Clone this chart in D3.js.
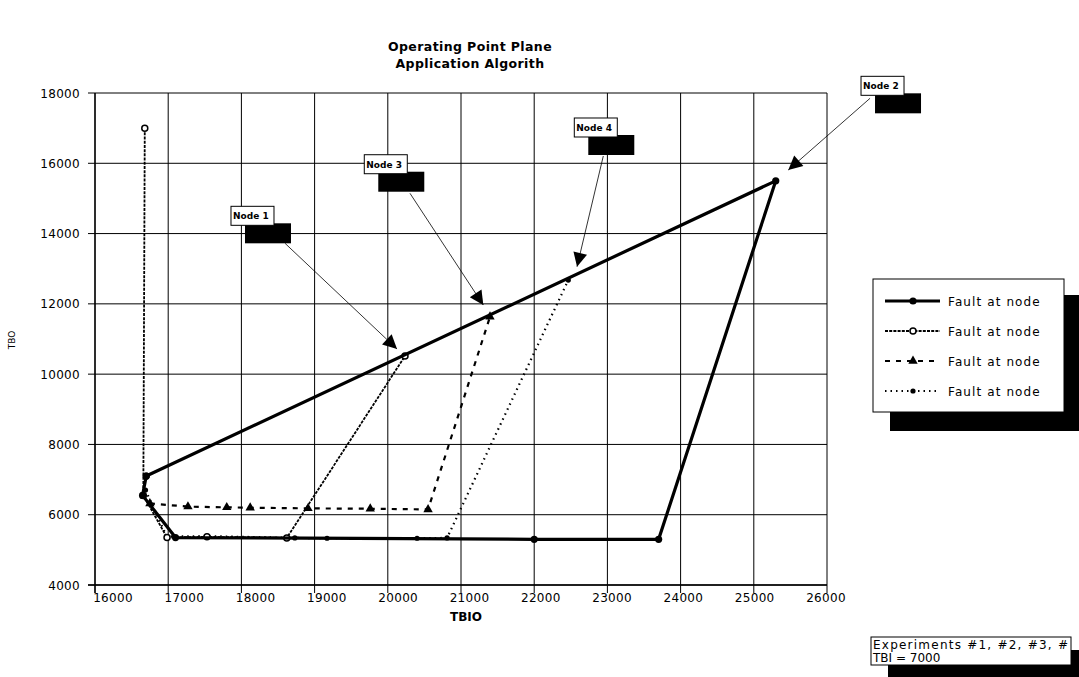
<!DOCTYPE html>
<html><head><meta charset="utf-8">
<script src="https://cdn.jsdelivr.net/npm/d3@7"></script>
<style>
html,body{margin:0;padding:0;background:#fff;}
svg{display:block;font-family:"DejaVu Sans",Verdana,sans-serif;}
</style></head>
<body>
<svg id="c" width="1079" height="677"></svg>
<script>
// ---- data ----
const xTicks = [16000,17000,18000,19000,20000,21000,22000,23000,24000,25000,26000];
const yTicks = [4000,6000,8000,10000,12000,14000,16000,18000];
const seriesNames = ["Fault at node","Fault at node","Fault at node","Fault at node"];

// series 1 (solid, filled circles)
const s1X = [16700,16650,17100,22000,23700,25300,16700];
const s1Y = [7100, 6550, 5350, 5300, 5300, 15500,7100];
// series 2 (fine dashed, open circles)
const s2X = [16680,16660,16984,17530,18620,20235];
const s2Y = [17000,6550, 5350, 5370, 5340, 10515];
// series 3 (dashed, triangles)
const s3X = [16750,17270,17800,18120,18910,19760,20550,21396];
const s3Y = [6320, 6230, 6210, 6200, 6180, 6170, 6150, 11633];
// series 4 (dotted, small dots)
const s4X = [16690,16980,17530,18730,19170,20400,20810,22466];
const s4Y = [6700, 5380, 5390, 5340, 5330, 5330, 5340, 12677];

// annotations (data coordinates): black box top-left, arrow start, arrow tip
const noteText  = ["Node 1","Node 3","Node 4","Node 2"];
const noteBoxX  = [18049,19870,22739,26656];
const noteBoxY  = [14292,15760,16805,17991];
const noteFromX = [18596,20303,22944,26588];
const noteFromY = [13723,15146,16207,17849];
const noteTipX  = [20126,21305,22585,25471];
const noteTipY  = [10715,11967,13057,15809];

const titleLines = ["Operating Point Plane","Application Algorith"];
const xTitle = "TBIO", yTitle = "TBO";
const infoLines = ["Experiments #1, #2, #3, #","TBI = 7000"];

// ---- drawing ----
const svg = d3.select("#c");
const L=95, R=827, T=93, B=585;
const x = d3.scaleLinear().domain([16000,26000]).range([L,R]);
const y = d3.scaleLinear().domain([4000,18000]).range([B,T]);
const xLab = d3.scaleLinear().domain([16000,26000]).range([113,826]);

// gridlines
svg.append("g").selectAll("line").data(xTicks).join("line")
  .attr("x1",d=>x(d)).attr("x2",d=>x(d)).attr("y1",T).attr("y2",B+8)
  .attr("stroke","#000").attr("stroke-width",1);
svg.append("g").selectAll("line").data(yTicks).join("line")
  .attr("x1",L-7).attr("x2",R).attr("y1",d=>y(d)).attr("y2",d=>y(d))
  .attr("stroke","#000").attr("stroke-width",1);
// axis lines
svg.append("line").attr("x1",L).attr("x2",L).attr("y1",T).attr("y2",B+8).attr("stroke","#000").attr("stroke-width",1.3);
svg.append("line").attr("x1",L-7).attr("x2",R).attr("y1",B).attr("y2",B).attr("stroke","#000").attr("stroke-width",1.3);

// tick labels
svg.append("g").selectAll("text").data(xTicks).join("text")
  .attr("x",d=>xLab(d)).attr("y",B+17).attr("text-anchor","middle")
  .attr("font-size",12).attr("letter-spacing",0.3).text(d=>d);
svg.append("g").selectAll("text").data(yTicks).join("text")
  .attr("x",80).attr("y",d=>y(d)+4.5).attr("text-anchor","end")
  .attr("font-size",12).attr("letter-spacing",0.3).text(d=>d);

// axis titles
svg.append("text").attr("x",466).attr("y",621).attr("text-anchor","middle")
  .attr("font-size",12).attr("font-weight","bold").text(xTitle);
svg.append("text").attr("transform","translate(15,340) rotate(-90)").attr("text-anchor","middle")
  .attr("font-size",9).text(yTitle);

// title
svg.append("g").selectAll("text").data(titleLines).join("text")
  .attr("x",470).attr("y",(d,i)=>51+i*17).attr("text-anchor","middle")
  .attr("font-size",12.5).attr("font-weight","bold").attr("letter-spacing",0.4).text(d=>d);

// series
const styles = [
  {w:3.2, dash:null,    marker:"fill"},
  {w:1.8, dash:"3,1.2", marker:"open"},
  {w:2.2, dash:"5,6",   marker:"tri"},
  {w:2.2, dash:"1.5,4", marker:"dot"}
];
const series = [
  d3.zip(s1X,s1Y), d3.zip(s2X,s2Y), d3.zip(s3X,s3Y), d3.zip(s4X,s4Y)
];
const line = d3.line().x(d=>x(d[0])).y(d=>y(d[1]));
function drawMarker(g, type, cx, cy, scale=1){
  if(type==="fill") g.append("circle").attr("cx",cx).attr("cy",cy).attr("r",3.6*scale).attr("fill","#000");
  else if(type==="open") g.append("circle").attr("cx",cx).attr("cy",cy).attr("r",3*scale).attr("fill","#fff").attr("stroke","#000").attr("stroke-width",1.5);
  else if(type==="tri") g.append("path").attr("d",d3.symbol(d3.symbolTriangle, 38*scale)()).attr("transform",`translate(${cx},${cy})`).attr("fill","#000");
  else g.append("circle").attr("cx",cx).attr("cy",cy).attr("r",2.6*scale).attr("fill","#000");
}
[3,2,1,0].forEach(i=>{
  const st=styles[i];
  const g=svg.append("g");
  g.append("path").attr("d",line(series[i])).attr("fill","none").attr("stroke","#000")
    .attr("stroke-width",st.w).attr("stroke-dasharray",st.dash).attr("stroke-linejoin","round");
  series[i].forEach(p=>drawMarker(g,st.marker,x(p[0]),y(p[1])));
});

// annotations
const defs=svg.append("defs");
defs.append("marker").attr("id","ah").attr("viewBox","0 0 10 10").attr("refX",10).attr("refY",5)
  .attr("markerWidth",16).attr("markerHeight",14).attr("markerUnits","userSpaceOnUse").attr("orient","auto")
  .append("path").attr("d","M0,0 L10,5 L0,10 Z").attr("fill","#000");
noteText.forEach((t,i)=>{
  const g=svg.append("g");
  g.append("line").attr("x1",x(noteFromX[i])).attr("y1",y(noteFromY[i]))
    .attr("x2",x(noteTipX[i])).attr("y2",y(noteTipY[i]))
    .attr("stroke","#000").attr("stroke-width",0.8).attr("marker-end","url(#ah)");
  const bx=x(noteBoxX[i]), by=y(noteBoxY[i]);
  g.append("rect").attr("x",bx).attr("y",by).attr("width",46).attr("height",20).attr("fill","#000");
  g.append("rect").attr("x",bx-14).attr("y",by-17).attr("width",43).attr("height",19)
    .attr("fill","#fff").attr("stroke","#000").attr("stroke-width",1);
  g.append("text").attr("x",bx-12).attr("y",by-4).attr("font-size",9).attr("font-weight","bold").text(t);
});

// legend
const lg=svg.append("g");
lg.append("rect").attr("x",890).attr("y",295).attr("width",189).attr("height",136).attr("fill","#000");
lg.append("rect").attr("x",873).attr("y",279).attr("width",191).attr("height",133).attr("fill","#fff").attr("stroke","#000").attr("stroke-width",1);
const rowY=[301,331,361,391];
seriesNames.forEach((n,i)=>{
  const st=styles[i];
  lg.append("line").attr("x1",885).attr("x2",940).attr("y1",rowY[i]).attr("y2",rowY[i])
    .attr("stroke","#000").attr("stroke-width",st.w).attr("stroke-dasharray",st.dash);
  drawMarker(lg,st.marker,913,rowY[i]);
  lg.append("text").attr("x",948).attr("y",rowY[i]+4.5).attr("font-size",12).attr("letter-spacing",1.1).text(n);
});

// info box
const ib=svg.append("g");
ib.append("rect").attr("x",888).attr("y",650).attr("width",191).attr("height",27).attr("fill","#000");
ib.append("rect").attr("x",871).attr("y",637).attr("width",200).attr("height",28).attr("fill","#fff").attr("stroke","#000").attr("stroke-width",1);
infoLines.forEach((t,i)=>{
  const tx=ib.append("text").attr("x",873).attr("y",649+i*12.5).attr("font-size",12).text(t);
  if(i===0) tx.attr("textLength",195).attr("lengthAdjust","spacing");
});
</script>
</body></html>
